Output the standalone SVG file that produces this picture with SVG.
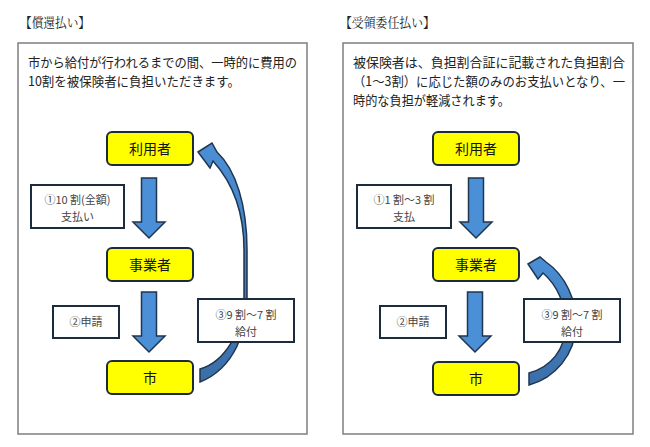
<svg xmlns="http://www.w3.org/2000/svg" width="650" height="447" viewBox="0 0 650 447">
<defs>
<style>
.title{font-family:"Noto Serif CJK JP","Noto Sans CJK JP",serif;font-size:13px;fill:#222}
.body{font-family:"Noto Sans CJK JP",sans-serif;font-size:13px;fill:#222}
.panel{fill:#fff;stroke:#7f7f7f;stroke-width:1.5}
.node rect{fill:#ffff00;stroke:#1c2b3a;stroke-width:2}
.node text{font-family:"Noto Sans CJK JP",sans-serif;font-size:14px;fill:#111;text-anchor:middle}
.lbl rect{fill:#fff;stroke:#1a2c3e;stroke-width:2}
.lbl text{font-family:"Noto Sans CJK JP",sans-serif;font-size:11px;fill:#444;text-anchor:middle}
.arr{fill:#4b8fd6;stroke:#1f3550;stroke-width:1.5;stroke-linejoin:miter}
.carr{fill:url(#g);stroke:#1f3550;stroke-width:1.5}
</style>
<linearGradient id="g" x1="0" y1="0" x2="0" y2="1">
<stop offset="0" stop-color="#4b8fd6"/>
<stop offset="1" stop-color="#3b6ea8"/>
</linearGradient>
<path id="down" d="M -7.5,0 H 7.5 V 44 H 16 L 0,60 L -16,44 H -7.5 Z"/>
</defs>
<rect width="650" height="447" fill="#fff"/>

<text class="title" x="20" y="27" textLength="70" lengthAdjust="spacingAndGlyphs">【償還払い】</text>
<text class="title" x="340" y="27" textLength="95" lengthAdjust="spacingAndGlyphs">【受領委任払い】</text>

<rect class="panel" x="18" y="43" width="289" height="391"/>
<rect class="panel" x="343" y="43" width="290" height="391"/>

<text class="body" x="28" y="67" textLength="269" lengthAdjust="spacingAndGlyphs">市から給付が行われるまでの間、一時的に費用の</text>
<text class="body" x="28" y="86" textLength="212" lengthAdjust="spacingAndGlyphs">10割を被保険者に負担いただきます。</text>
<text class="body" x="353" y="67" textLength="272" lengthAdjust="spacingAndGlyphs">被保険者は、負担割合証に記載された負担割合</text>
<text class="body" x="353" y="86" textLength="272" lengthAdjust="spacingAndGlyphs">（1～3割）に応じた額のみのお支払いとなり、一</text>
<text class="body" x="353" y="105" textLength="157" lengthAdjust="spacingAndGlyphs">時的な負担が軽減されます。</text>

<g id="connectors">
<use href="#down" class="arr" x="149" y="178"/>
<use href="#down" class="arr" x="149" y="292"/>
<use href="#down" class="arr" x="476" y="178"/>
<use href="#down" class="arr" x="475" y="292"/>
<path class="carr" d="M 198,152 L 212,143 L 217,152 C 236,170 247,205 247,250 L 247,300 C 247,330 235,368 200,382 L 200,369 C 225,362 243,330 244,300 L 244,250 C 244,212 232,182 213,161 L 210,168 Z"/>
<path class="carr" d="M 528,264 L 540,257 L 546,262 C 565,275 577,300 576,325 C 575,355 555,378 529,385 L 529,373 C 551,367 565,350 566,325 C 566,305 557,285 543,273 L 538,279 Z"/>
</g>

<g id="l-user" class="node"><rect x="107" y="132" width="86" height="33" rx="5"/><text x="150" y="154">利用者</text></g>
<g id="l-provider" class="node"><rect x="107" y="248" width="86" height="33" rx="5"/><text x="150" y="270">事業者</text></g>
<g id="l-city" class="node"><rect x="107" y="361" width="86" height="33" rx="5"/><text x="150" y="383">市</text></g>

<g id="r-user" class="node"><rect x="433" y="132" width="86" height="33" rx="5"/><text x="476" y="154">利用者</text></g>
<g id="r-provider" class="node"><rect x="433" y="248" width="86" height="33" rx="5"/><text x="476" y="270">事業者</text></g>
<g id="r-city" class="node"><rect x="433" y="362" width="86" height="33" rx="5"/><text x="476" y="384">市</text></g>

<g id="l-lbl1" class="lbl"><rect x="31" y="185" width="93" height="43"/><text x="77.5" y="204">①10 割(全額)</text><text x="77.5" y="221">支払い</text></g>
<g id="l-lbl2" class="lbl"><rect x="53" y="306" width="66" height="32"/><text x="86" y="326">②申請</text></g>
<g id="l-lbl3" class="lbl"><rect x="198" y="299" width="96" height="43"/><text x="246" y="319">③9 割～7 割</text><text x="246" y="336">給付</text></g>

<g id="r-lbl1" class="lbl"><rect x="357" y="185" width="94" height="43"/><text x="404" y="204">①1 割～3 割</text><text x="404" y="221">支払</text></g>
<g id="r-lbl2" class="lbl"><rect x="380" y="306" width="66" height="32"/><text x="413" y="326">②申請</text></g>
<g id="r-lbl3" class="lbl"><rect x="524" y="299" width="96" height="43"/><text x="572" y="319">③9 割～7 割</text><text x="572" y="336">給付</text></g>
</svg>
